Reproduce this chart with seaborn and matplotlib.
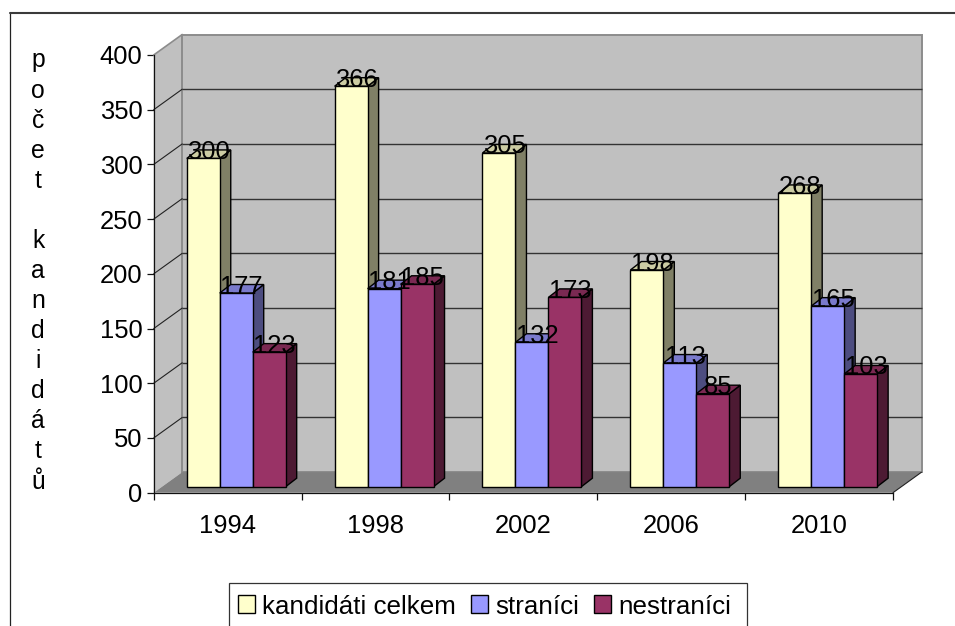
import matplotlib
matplotlib.use("Agg")
import matplotlib.pyplot as plt
import pandas as pd
import seaborn as sns
from matplotlib.patches import Polygon, Rectangle
from matplotlib.transforms import Affine2D, IdentityTransform

years = ["1994", "1998", "2002", "2006", "2010"]
celkem = [300, 366, 305, 198, 268]
stranici = [177, 181, 132, 113, 165]
nestranici = [123, 185, 173, 85, 103]
series_names = ["kandidáti celkem", "straníci", "nestraníci"]
y_ticks = [0, 50, 100, 150, 200, 250, 300, 350, 400]
axis_title = "počet kandidátů"

colors = ["#FFFFCC", "#9999FF", "#993366"]
sides = ["#808066", "#4D4D80", "#4D1A33"]
tops = ["#CCCCA3", "#7A7ACC", "#7A2952"]

W, H = 955, 626
sns.set_style("white")
plt.rcParams["font.family"] = ["Liberation Sans", "DejaVu Sans"]
FS = 18.4
fig = plt.figure(figsize=(W / 100, H / 100), dpi=100, facecolor="white")


def rect(l, t, r, b):
    return [l / W, 1 - b / H, (r - l) / W, (b - t) / H]


L, T, R, B = 153.7, 55.0, 893.0, 492.7
DX, DY = 28.5, 20.5          # wall depth
BX, BY = 8.6, 6.0            # bar offset from front plane
SX, SY = 11.0, 8.5           # bar depth

ax = fig.add_axes(rect(L, T, R, B), zorder=1)
ax.set_xlim(-0.5, 4.5)
ax.set_ylim(0, 400)
ax.patch.set_alpha(0)

# walls and floor
wall_edge = "#8C8C8C"
to_disp = ax.transData.transform
fl0, fb0 = to_disp((-0.5, 0))
fr0, ft0 = to_disp((4.5, 400))
ax.add_patch(Polygon([(fl0, fb0), (fl0, ft0), (fl0 + DX, ft0 + DY), (fl0 + DX, fb0 + DY)],
                     transform=IdentityTransform(), fc="#C0C0C0", ec="none", zorder=0, clip_on=False))
ax.add_patch(Polygon([(fl0 + DX, fb0 + DY), (fl0 + DX, ft0 + DY), (fr0 + DX, ft0 + DY), (fr0 + DX, fb0 + DY)],
                     transform=IdentityTransform(), fc="#C0C0C0", ec=wall_edge, lw=1.4, zorder=0.5, clip_on=False))
ax.plot([fl0, fl0 + DX], [ft0, ft0 + DY], color=wall_edge, lw=1.2,
        transform=IdentityTransform(), clip_on=False, zorder=0.6)
ax.add_patch(Polygon([(fl0, fb0), (fr0, fb0), (fr0 + DX, fb0 + DY), (fl0 + DX, fb0 + DY)],
                     transform=IdentityTransform(), fc="#808080", ec="none", zorder=1.5, clip_on=False))
ax.plot([fr0, fr0 + DX], [fb0, fb0 + DY], color="#222222", lw=0.8,
        transform=IdentityTransform(), clip_on=False, zorder=1.6)

# gridlines on back and side wall
shift = Affine2D().translate(DX, DY)
inner = y_ticks[1:-1]
ax.hlines(inner, 0, 1, transform=ax.get_yaxis_transform() + shift,
          colors="#333333", lw=1.0, zorder=1, clip_on=False)
for v in inner:
    px, py = to_disp((-0.5, v))
    ax.plot([px, px + DX], [py, py + DY], color="#222222", lw=0.8,
            transform=IdentityTransform(), clip_on=False, zorder=1)

# axes, ticks
for s in ("top", "right"):
    ax.spines[s].set_visible(False)
for s in ("left", "bottom"):
    ax.spines[s].set_color("#111111")
    ax.spines[s].set_linewidth(0.9)
ax.set_yticks(y_ticks)
ax.set_yticklabels([str(v) for v in y_ticks], fontsize=FS, color="black")
ax.set_xticks(range(len(years)))
ax.set_xticklabels(years, fontsize=FS, color="black")
ax.set_xticks([i - 0.5 for i in range(len(years) + 1)], minor=True)
ax.tick_params(axis="y", left=True, length=5, width=0.9, pad=3, color="#111111")
ax.tick_params(axis="x", which="major", bottom=False, length=0, pad=15)
ax.tick_params(axis="x", which="minor", bottom=True, length=5, width=0.9, color="#111111")

# bars
df = pd.DataFrame({
    "rok": years * 3,
    "serie": sum([[n] * len(years) for n in series_names], []),
    "pocet": celkem + stranici + nestranici,
})
bax = fig.add_axes(rect(L + BX, T - BY, R + BX, B - BY), zorder=2)
sns.barplot(data=df, x="rok", y="pocet", hue="serie", hue_order=series_names,
            palette=colors, width=0.669, gap=0, saturation=1, order=years,
            edgecolor="black", linewidth=1.0, ax=bax)
bax.set_xlim(-0.5, 4.5)
bax.set_ylim(0, 400)
bax.patch.set_alpha(0)
bax.set_axis_off()
handles, labels = bax.get_legend_handles_labels()
if bax.get_legend() is not None:
    bax.get_legend().remove()

for s, container in enumerate(bax.containers):
    for i, bar in enumerate(container):
        order = 3 + i * 3 + s
        z = order * 0.1 + 3
        x0, w, h = bar.get_x(), bar.get_width(), bar.get_height()
        (xl, yb) = bax.transData.transform((x0, 0))
        (xr, yt) = bax.transData.transform((x0 + w, h))
        bar.set_zorder(z + 0.02)
        bar.set_clip_on(False)
        bax.add_patch(Polygon([(xr, yb), (xr + SX, yb + SY), (xr + SX, yt + SY), (xr, yt)],
                              transform=IdentityTransform(), fc=sides[s], ec="black",
                              lw=1.0, zorder=z, clip_on=False))
        bax.add_patch(Polygon([(xl, yt), (xr, yt), (xr + SX, yt + SY), (xl + SX, yt + SY)],
                              transform=IdentityTransform(), fc=tops[s], ec="black",
                              lw=1.0, zorder=z, clip_on=False))
        bax.annotate(f"{int(h)}", (x0 + w / 2, h), xytext=(5.5, 6.5),
                     textcoords="offset pixels", ha="center", va="center",
                     fontsize=FS, color="black", zorder=50, annotation_clip=False)

# chart-area border
fig.add_artist(plt.Line2D([9.5 / W, 9.5 / W], [0, 1 - 13 / H], color="#222222", lw=0.9))
fig.add_artist(plt.Line2D([9.5 / W, 1], [1 - 13 / H, 1 - 13 / H], color="#3A3A3A", lw=1.5))

# vertical axis title, one glyph per line
fig.text(38 / W, 1 - 271 / H, "\n".join(axis_title), ha="center", va="center",
         fontsize=FS * 0.97, linespacing=1.32, color="black")

# legend frame (its lower edge falls off the canvas in the reference)
fig.add_artist(Rectangle((228.7 / W, 1 - 632 / H), (746.5 - 228.7) / W, (632 - 582.7) / H,
                         transform=fig.transFigure, fc="white", ec="#333333", lw=0.9))
leg = fig.legend(handles, labels, loc="upper left",
                 bbox_to_anchor=(237.5 / W, 1 - 594.5 / H), bbox_transform=fig.transFigure,
                 ncol=3, fontsize=18.7, frameon=False, borderaxespad=0, borderpad=0,
                 handlelength=0.68, handleheight=0.68, handletextpad=0.28,
                 columnspacing=0.55, labelcolor="black")
leg.set_zorder(60)
for hd in leg.legend_handles:
    hd.set_edgecolor("black")
    hd.set_linewidth(1.0)

fig.savefig("out.png", dpi=100, facecolor="white")
